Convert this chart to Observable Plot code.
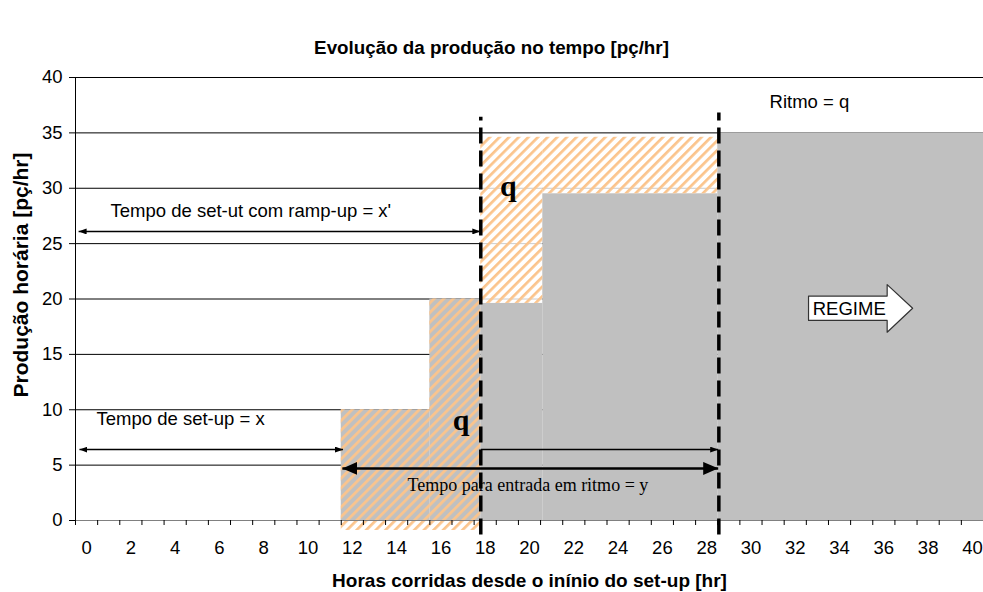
<!DOCTYPE html>
<html><head><meta charset="utf-8">
<script src="https://cdn.jsdelivr.net/npm/d3@7"></script>
<script src="https://cdn.jsdelivr.net/npm/@observablehq/plot@0.6"></script>
<style>
body{margin:0;background:#fff;}
#chart svg{display:block;}
</style></head><body><div id="chart"></div>
<script>
// ---- texts
const title = "Evolução da produção no tempo [pç/hr]";
const xLabel = "Horas corridas desde o inínio do set-up [hr]";
const yLabel = "Produção horária [pç/hr]";
// ---- ticks
const xTickLabels = [0, 2, 4, 6, 8, 10, 12, 14, 16, 18, 20, 22, 24, 26, 28, 30, 32, 34, 36, 38, 40];
const yTickLabels = [0, 5, 10, 15, 20, 25, 30, 35, 40];
const gridValues = [5, 10, 15, 20, 25, 30, 35, 40];
// ---- gray production steps (hours, pç/hr)
const stepStart = [11.5, 15.5, 17.8, 20.6, 28.5];
const stepEnd   = [15.5, 17.8, 20.6, 28.5, 40.5];
const grayLevel = [10, 20, 19.6, 29.5, 35];
// ---- hatched (lost production) regions
const hatchStart  = [11.5, 15.5, 17.8, 20.6];
const hatchEnd    = [15.5, 17.8, 20.6, 28.5];
const hatchBottom = [-0.9, -0.9, 19.6, 29.5];
const hatchTop    = [10, 20, 34.6, 34.6];
const hatchOnWhite = [false, false, true, true];
// ---- dashed vertical markers
const dashX = [17.8, 28.55];
const dashBottom = [-1.3, -1.3];
const dashTop = [36.4, 36.8];
// ---- arrows
const arrowX1 = [-0.32, -0.36, 17.8, 11.55];
const arrowX2 = [11.58, 17.78, 28.52, 28.52];
const arrowY  = [6.4, 26.1, 6.4, 4.7];
const arrowKind = ["s2", "s2", "s1", "b2"];
// ---- annotations (sans)
const noteText = ["Tempo de set-up = x", "Tempo de set-ut com ramp-up = x'", "Ritmo = q"];
const noteX = [0.45, 1.08, 30.84];
const noteY = [9.12, 27.93, 37.79];
// ---- serif annotations
const serifText = ["Tempo para entrada em ritmo = y"];
const serifX = [14.49];
const serifY = [3.22];
const qX = [16.91, 19.05];
const qY = [9.0, 30.18];
// ---- REGIME arrow
const regimeLeft = 32.6, regimeRight = 36.15, regimeTip = 37.3;
const regimeBottom = 18.07, regimeTop = 20.26, regimeHeadBottom = 17.0, regimeHeadTop = 21.3;
const regimeText = "REGIME", regimeTextX = 32.79, regimeTextY = 19.05;

const steps = stepStart.map((x1, i) => ({x1, x2: stepEnd[i], y: grayLevel[i]}));
const hatches = hatchStart.map((x1, i) => ({x1, x2: hatchEnd[i], y1: hatchBottom[i], y2: hatchTop[i], white: hatchOnWhite[i]}));
const dashes = dashX.map((x, i) => ({x, y1: dashBottom[i], y2: dashTop[i]}));
const arrows = arrowX1.map((x1, i) => ({x1, x2: arrowX2[i], y: arrowY[i], kind: arrowKind[i]}));
const notes = noteText.map((t, i) => ({t, x: noteX[i], y: noteY[i]}));
const serifNotes = serifText.map((t, i) => ({t, x: serifX[i], y: serifY[i]}));
const qs = qX.map((x, i) => ({x, y: qY[i]}));
const regimeMid = (regimeTop + regimeBottom) / 2;
const regimePts = [
  [regimeLeft, regimeTop], [regimeRight, regimeTop], [regimeRight, regimeHeadTop],
  [regimeTip, regimeMid], [regimeRight, regimeHeadBottom], [regimeRight, regimeBottom],
  [regimeLeft, regimeBottom], [regimeLeft, regimeTop]
];
const halfTicks = d3.range(-0.5, 41, 1);

const sans = "Liberation Sans, Arial, sans-serif";
const serif = "Liberation Serif, Times New Roman, serif";

const arrowMark = (kind, sw) => Plot.link(arrows.filter(d => d.kind === kind), {
  x1: "x1", x2: "x2", y1: "y", y2: "y", stroke: "black", strokeWidth: sw
});

const chart = Plot.plot({
  width: 983, height: 592,
  marginLeft: 75, marginRight: 0, marginTop: 77, marginBottom: 72,
  style: {fontFamily: sans, fontSize: "18px", color: "black", background: "white"},
  x: {domain: [-0.5, 40.5], axis: null},
  y: {domain: [0, 40], axis: null},
  marks: [
    Plot.ruleY(gridValues, {x1: -0.5, x2: 40.5, stroke: "#000", strokeWidth: 1}),
    Plot.rect(hatches.filter(d => d.white), {x1: "x1", x2: "x2", y1: "y1", y2: "y2", fill: "white", fillOpacity: 0.8}),
    Plot.rect(steps, {x1: "x1", x2: "x2", y1: 0, y2: "y", fill: "#C0C0C0"}),
    Plot.rect(hatches, {x1: "x1", x2: "x2", y1: "y1", y2: "y2", fill: "url(#hatch)"}),
    Plot.ruleY([0], {x1: -0.5, x2: 40.5, stroke: "#808080", strokeWidth: 1.2}),
    Plot.ruleX([-0.5], {y1: 0, y2: 40, stroke: "#000", strokeWidth: 1}),
    Plot.axisX(halfTicks, {tickSize: 5, tickFormat: () => "", stroke: "#000"}),
    Plot.axisX(xTickLabels, {tickSize: 0, tickPadding: 20, fontSize: 18.5, fontFamily: sans}),
    Plot.axisY(yTickLabels, {tickSize: 6, tickPadding: 7, fontSize: 18.5, fontFamily: sans, stroke: "#000"}),
    Plot.ruleX(dashes, {x: "x", y1: "y1", y2: "y2", stroke: "black", strokeWidth: 3.5, strokeDasharray: "16,7"}),
    arrowMark("s2", 1.5),
    arrowMark("s1", 1.5),
    arrowMark("b2", 2.6),
    Plot.text(notes, {x: "x", y: "y", text: "t", textAnchor: "start", fontSize: 18.5, fontFamily: sans}),
    Plot.text(serifNotes, {x: "x", y: "y", text: "t", textAnchor: "start", fontSize: 18, fontFamily: serif}),
    Plot.text(qs, {x: "x", y: "y", text: () => "q", fontSize: 30, fontWeight: "bold", fontFamily: serif}),
    Plot.line(regimePts, {x: d => d[0], y: d => d[1], fill: "white", stroke: "#333", strokeWidth: 1.2}),
    Plot.text([regimeText], {x: regimeTextX, y: regimeTextY, text: d => d, textAnchor: "start", fontSize: 18.5, fontFamily: sans}),
    Plot.text([title], {frameAnchor: "top", textAnchor: "middle", lineAnchor: "middle", dx: -38, dy: -30, text: d => d, fontSize: 18.8, fontWeight: "bold", fontFamily: sans}),
    Plot.text([xLabel], {frameAnchor: "bottom", textAnchor: "middle", lineAnchor: "middle", dx: 0, dy: 60, text: d => d, fontSize: 19, fontWeight: "bold", fontFamily: sans}),
    Plot.text([yLabel], {frameAnchor: "left", textAnchor: "middle", lineAnchor: "middle", dx: -54, dy: -24, rotate: -90, text: d => d, fontSize: 21, fontWeight: "bold", fontFamily: sans})
  ]
});

const svg = d3.select(chart);
const defs = svg.insert("defs", ":first-child");
const pat = defs.append("pattern").attr("id", "hatch").attr("patternUnits", "userSpaceOnUse")
  .attr("width", 6.8).attr("height", 6.8).attr("patternTransform", "rotate(45)");
pat.append("rect").attr("x", 0).attr("y", 0).attr("width", 2.7).attr("height", 6.8).attr("fill", "#FBC48C");
function addMarker(id, len, h) {
  defs.append("marker").attr("id", id).attr("markerUnits", "userSpaceOnUse")
    .attr("viewBox", `0 0 ${len} ${h}`).attr("refX", len).attr("refY", h / 2)
    .attr("markerWidth", len).attr("markerHeight", h).attr("orient", "auto-start-reverse")
    .append("path").attr("d", `M0,0L${len},${h / 2}L0,${h}Z`).attr("fill", "black").attr("stroke", "none");
}
addMarker("mSmall", 8, 6);
addMarker("mBig", 15, 13);
const linkGroups = svg.selectAll('g[aria-label="link"]').nodes();
const kindsOrder = ["s2", "s1", "b2"];
linkGroups.forEach((g, i) => {
  const k = kindsOrder[i];
  const paths = d3.select(g).selectAll("path");
  if (k === "s2") paths.attr("marker-start", "url(#mSmall)").attr("marker-end", "url(#mSmall)");
  if (k === "s1") paths.attr("marker-end", "url(#mSmall)");
  if (k === "b2") paths.attr("marker-start", "url(#mBig)").attr("marker-end", "url(#mBig)");
});

document.getElementById("chart").appendChild(chart);
</script></body></html>
